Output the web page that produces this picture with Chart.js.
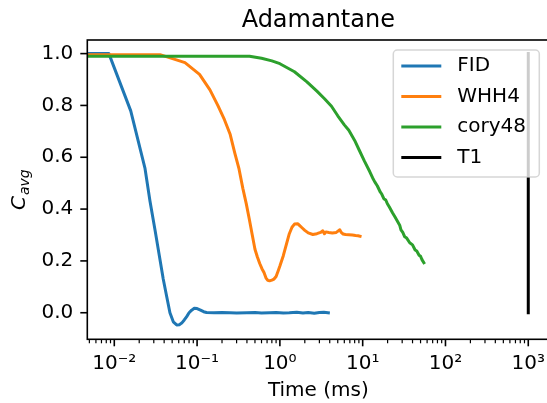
<!DOCTYPE html>
<html>
<head>
<meta charset="utf-8">
<script src="https://cdn.jsdelivr.net/npm/chart.js@4.4.1/dist/chart.umd.min.js"></script>
<style>
  html, body { margin: 0; padding: 0; overflow: hidden; background: #fff; }
  #wrap { width: 552px; height: 403px; }
</style>
</head>
<body>
<div id="wrap"><canvas id="chart" width="552" height="403"></canvas></div>
<script>
// time axis in ms, 1e-4 stands for t = 0 (clipped off the left edge like in the original)
var fidTime = [1e-4, 0.0086, 0.0158, 0.0235, 0.027, 0.031, 0.035, 0.039, 0.043, 0.047,
  0.0516, 0.0567, 0.061, 0.0652, 0.07, 0.0749, 0.08, 0.086, 0.0925, 0.1,
  0.11, 0.12, 0.13, 0.16, 0.2, 0.25, 0.3, 0.4, 0.5, 0.6,
  0.75, 0.9, 1.1, 1.3, 1.6, 1.9, 2.2, 2.6, 3.0, 3.4, 3.85];
var fidCavg = [1.0, 1.0, 0.779, 0.557, 0.43, 0.32, 0.22, 0.13, 0.062, 0.0,
  -0.035, -0.047, -0.046, -0.04, -0.028, -0.015, 0.0, 0.01, 0.017, 0.016,
  0.01, 0.004, 0.001, 0.0, 0.001, 0.0, -0.001, 0.0, 0.001, -0.001,
  0.0, 0.001, -0.001, 0.0, 0.002, -0.001, 0.001, -0.002, 0.001, 0.002, 0.0];

var whhTime = [1e-4, 0.0357, 0.0714, 0.107, 0.143, 0.178, 0.214, 0.25, 0.286, 0.321,
  0.357, 0.393, 0.428, 0.464, 0.5, 0.535, 0.571, 0.607, 0.643, 0.678,
  0.714, 0.75, 0.8, 0.85, 0.9, 0.95, 1.0, 1.1, 1.2, 1.3,
  1.4, 1.5, 1.65, 1.75, 1.85, 2.0, 2.2, 2.5, 2.8, 3.1,
  3.3, 3.45, 3.6, 3.9, 4.3, 4.8, 5.3, 5.5, 5.8, 6.2,
  6.8, 7.5, 8.2, 8.8, 9.3];
var whhCavg = [0.996, 0.996, 0.965, 0.92, 0.86, 0.80, 0.745, 0.69, 0.615, 0.555,
  0.48, 0.42, 0.36, 0.30, 0.245, 0.215, 0.19, 0.17, 0.155, 0.135,
  0.125, 0.123, 0.126, 0.13, 0.14, 0.16, 0.18, 0.22, 0.265, 0.305,
  0.33, 0.342, 0.343, 0.335, 0.328, 0.318, 0.308, 0.302, 0.305, 0.31,
  0.316, 0.305, 0.312, 0.31, 0.308, 0.31, 0.32, 0.31, 0.304, 0.302,
  0.301, 0.3, 0.298, 0.297, 0.295];

var coryTime = [1e-4, 0.43, 0.6, 0.8, 1.0, 1.5, 2.12, 2.8, 3.46, 4.2,
  5.0, 6.0, 6.8, 8.0, 9.1, 10.5, 12.2, 13.2, 14, 15,
  16.3, 17, 18, 19, 19.8, 21, 23, 24.5, 26.5, 28,
  29, 30.5, 32.2, 34, 37, 40, 43, 45, 48, 50,
  52, 54.8];
var coryCavg = [0.99, 0.99, 0.982, 0.972, 0.961, 0.93, 0.891, 0.855, 0.826, 0.797,
  0.76, 0.725, 0.704, 0.665, 0.627, 0.585, 0.544, 0.52, 0.505, 0.49,
  0.466, 0.458, 0.44, 0.435, 0.422, 0.408, 0.385, 0.37, 0.351, 0.338,
  0.32, 0.31, 0.293, 0.288, 0.27, 0.262, 0.242, 0.238, 0.222, 0.218,
  0.205, 0.193];

var t1Time = [1000, 1000];
var t1Cavg = [0.0, 1.0];

var seriesLabels = ["FID", "WHH4", "cory48", "T1"];
var seriesColors = ["#1f77b4", "#ff7f0e", "#2ca02c", "#000000"];

var xTickValues = [0.01, 0.1, 1, 10, 100, 1000];
var xTickLabels = ["10\u207B\u00B2", "10\u207B\u00B9", "10\u2070", "10\u00B9", "10\u00B2", "10\u00B3"];
var yTickValues = [0.0, 0.2, 0.4, 0.6, 0.8, 1.0];

var FONT = "'DejaVu Sans', sans-serif";

function toPoints(xs, ys) {
  return xs.map(function (x, i) {
    return { x: x, y: ys[i] };
  });
}

var seriesData = [
  toPoints(fidTime, fidCavg),
  toPoints(whhTime, whhCavg),
  toPoints(coryTime, coryCavg),
  toPoints(t1Time, t1Cavg),
];

var datasets = seriesData.map(function (pts, i) {
  return {
    label: seriesLabels[i],
    data: pts,
    borderColor: seriesColors[i],
    backgroundColor: seriesColors[i],
    borderWidth: 3,
    pointRadius: 0,
    tension: 0,
    fill: false,
    borderJoinStyle: "round",
    borderCapStyle: "square",
    order: seriesLabels.length - i, // later series on top, like matplotlib
  };
});

function line(ctx, x1, y1, x2, y2) {
  ctx.beginPath();
  ctx.moveTo(x1, y1);
  ctx.lineTo(x2, y2);
  ctx.stroke();
}

function roundRect(ctx, x, y, w, h, r) {
  ctx.beginPath();
  ctx.moveTo(x + r, y);
  ctx.arcTo(x + w, y, x + w, y + h, r);
  ctx.arcTo(x + w, y + h, x, y + h, r);
  ctx.arcTo(x, y + h, x, y, r);
  ctx.arcTo(x, y, x + w, y, r);
  ctx.closePath();
}

var decorPlugin = {
  id: "decor",
  afterDatasetsDraw: function (chart) {
    var ctx = chart.ctx;
    var a = chart.chartArea;
    var xs = chart.scales.x;
    var ys = chart.scales.y;
    ctx.save();
    ctx.strokeStyle = "#000";
    ctx.lineCap = "butt";

    // frame
    ctx.lineWidth = 1.6;
    ctx.strokeRect(a.left, a.top, a.right - a.left, a.bottom - a.top);

    // major ticks
    yTickValues.forEach(function (v) {
      var py = ys.getPixelForValue(v);
      line(ctx, a.left - 7, py, a.left, py);
    });
    xTickValues.forEach(function (v) {
      var px = xs.getPixelForValue(v);
      line(ctx, px, a.bottom, px, a.bottom + 7);
    });
    // minor ticks on the log axis
    ctx.lineWidth = 1.2;
    for (var e = -3; e <= 3; e++) {
      for (var k = 2; k <= 9; k++) {
        var v = k * Math.pow(10, e);
        if (v < xs.min || v > xs.max) continue;
        var px = xs.getPixelForValue(v);
        line(ctx, px, a.bottom, px, a.bottom + 4);
      }
    }

    // title
    ctx.fillStyle = "#000";
    ctx.font = "24px " + FONT;
    ctx.textAlign = "center";
    ctx.textBaseline = "alphabetic";
    ctx.fillText("Adamantane", (a.left + a.right) / 2, 27);

    // y axis label C_avg
    ctx.save();
    ctx.translate(24.5, (a.top + a.bottom) / 2);
    ctx.rotate(-Math.PI / 2);
    ctx.textAlign = "left";
    ctx.font = "italic 20px " + FONT;
    var wC = ctx.measureText("C").width;
    ctx.font = "italic 14px " + FONT;
    var wSub = ctx.measureText("avg").width;
    var x0 = -(wC + 1 + wSub) / 2;
    ctx.font = "italic 20px " + FONT;
    ctx.fillText("C", x0, 0);
    ctx.font = "italic 14px " + FONT;
    ctx.fillText("avg", x0 + wC + 1, 4.5);
    ctx.restore();

    // legend
    var boxW = 146, boxH = 127;
    var boxL = a.right - 10 - boxW, boxT = a.top + 10;
    roundRect(ctx, boxL, boxT, boxW, boxH, 4);
    ctx.fillStyle = "rgba(255,255,255,0.8)";
    ctx.fill();
    ctx.strokeStyle = "rgba(204,204,204,0.8)";
    ctx.lineWidth = 1.5;
    ctx.stroke();
    ctx.font = "20px " + FONT;
    ctx.textAlign = "left";
    ctx.textBaseline = "middle";
    chart.data.datasets.forEach(function (d, i) {
      var cy = boxT + 16 + i * 30.5;
      ctx.strokeStyle = d.borderColor;
      ctx.lineWidth = 3;
      line(ctx, boxL + 8, cy, boxL + 48, cy);
      ctx.fillStyle = "#000";
      ctx.fillText(d.label, boxL + 64, cy);
    });
    ctx.restore();
  },
};

var ctx = document.getElementById("chart").getContext("2d");
var chart = new Chart(ctx, {
  type: "line",
  data: { datasets: datasets },
  plugins: [decorPlugin],
  options: {
    responsive: false,
    animation: false,
    devicePixelRatio: 1,
    layout: { padding: { top: 40, right: 2.7, left: 0, bottom: 0 } },
    plugins: {
      legend: { display: false },
      tooltip: { enabled: false },
      title: { display: false },
    },
    scales: {
      x: {
        type: "logarithmic",
        min: Math.pow(10, -2.326),
        max: Math.pow(10, 3.254),
        afterBuildTicks: function (scale) {
          scale.ticks = xTickValues.map(function (v) {
            return { value: v };
          });
        },
        afterFit: function (scale) {
          scale.height = 63.7;
          scale.paddingLeft = 0;
          scale.paddingRight = 0;
        },
        ticks: {
          autoSkip: false,
          maxRotation: 0,
          padding: 12,
          color: "#000",
          font: { family: FONT, size: 20 },
          callback: function (value, index) {
            return xTickLabels[index];
          },
        },
        grid: { display: false, drawTicks: false },
        border: { display: false },
        title: {
          display: true,
          text: "Time (ms)",
          color: "#000",
          padding: 0,
          font: { family: FONT, size: 20 },
        },
      },
      y: {
        type: "linear",
        min: -0.1025,
        max: 1.0525,
        afterBuildTicks: function (scale) {
          scale.ticks = yTickValues.map(function (v) {
            return { value: v };
          });
        },
        afterFit: function (scale) {
          scale.width = 87.3;
          scale.paddingTop = 0;
          scale.paddingBottom = 0;
        },
        ticks: {
          padding: 14,
          color: "#000",
          font: { family: FONT, size: 20 },
          callback: function (value) {
            return value.toFixed(1);
          },
        },
        grid: { display: false, drawTicks: false },
        border: { display: false },
      },
    },
  },
});
</script>
</body>
</html>
